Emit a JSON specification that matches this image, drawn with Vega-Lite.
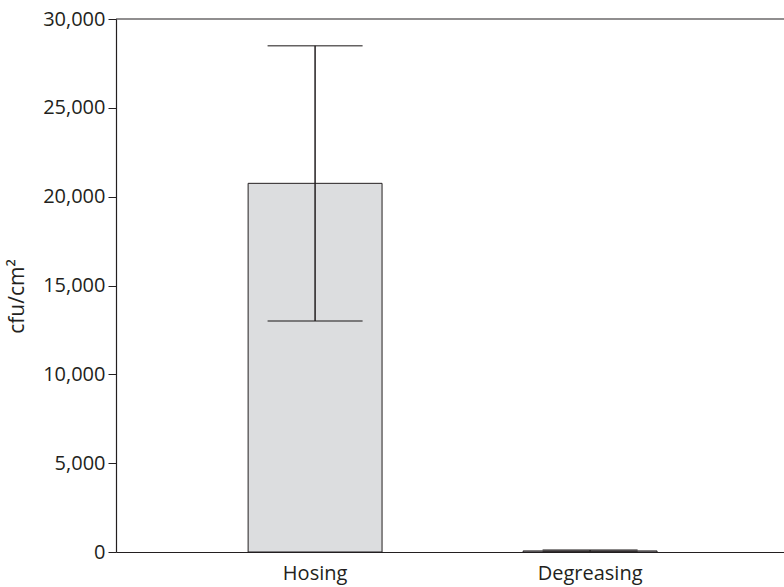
{
  "$schema": "https://vega.github.io/schema/vega-lite/v6.json",
  "width": 668,
  "height": 533,
  "autosize": {"type": "none"},
  "padding": {"left": 116, "top": 19, "right": 0, "bottom": 35},
  "background": "white",
  "config": {
    "view": {"stroke": null},
    "font": "Open Sans",
    "axis": {"labelColor": "#231f20", "titleColor": "#231f20", "domainColor": "#231f20", "tickColor": "#231f20", "grid": false}
  },
  "data": {
    "values": [
      {"group": "Hosing", "mean": 20750, "lo": 13000, "hi": 28500},
      {"group": "Degreasing", "mean": 60, "lo": 20, "hi": 110}
    ]
  },
  "layer": [
    {
      "mark": {"type": "bar", "fill": "#dcdddf", "stroke": "#231f20", "strokeWidth": 1},
      "encoding": {
        "x": {
          "field": "group", "type": "nominal", "sort": ["Hosing", "Degreasing"],
          "scale": {"paddingInner": 0.513, "paddingOuter": 0.471, "align": 0.51},
          "axis": {"title": null, "ticks": false, "labelAngle": 0, "labelFontSize": 20, "labelPadding": 11, "domainWidth": 1.2}
        },
        "y": {
          "field": "mean", "type": "quantitative",
          "scale": {"domain": [0, 30000], "nice": false},
          "axis": {
            "title": "cfu/cm²", "titleFontSize": 21, "titleFontWeight": "normal",
            "titleX": -89, "titleY": 277, "titleBaseline": "bottom", "titleAngle": -90, "titleAlign": "center",
            "values": [0, 5000, 10000, 15000, 20000, 25000, 30000], "format": ",d",
            "labelFontSize": 20, "tickSize": 8, "labelPadding": 3, "domainWidth": 1.2
          }
        }
      }
    },
    {
      "mark": {"type": "rule", "color": "#231f20", "strokeWidth": 1.5},
      "encoding": {
        "x": {"field": "group", "type": "nominal", "sort": ["Hosing", "Degreasing"]},
        "y": {"field": "lo", "type": "quantitative"}, "y2": {"field": "hi"}
      }
    },
    {
      "mark": {"type": "tick", "color": "#231f20", "size": 95, "thickness": 1.5, "orient": "horizontal"},
      "encoding": {
        "x": {"field": "group", "type": "nominal", "sort": ["Hosing", "Degreasing"]},
        "y": {"field": "hi", "type": "quantitative"}
      }
    },
    {
      "mark": {"type": "tick", "color": "#231f20", "size": 95, "thickness": 1.5, "orient": "horizontal"},
      "encoding": {
        "x": {"field": "group", "type": "nominal", "sort": ["Hosing", "Degreasing"]},
        "y": {"field": "lo", "type": "quantitative"}
      }
    },
    {
      "data": {"values": [{"top": 30000}]},
      "mark": {"type": "rule", "color": "#231f20", "strokeWidth": 1.2},
      "encoding": {"y": {"field": "top", "type": "quantitative"}}
    }
  ]
}
